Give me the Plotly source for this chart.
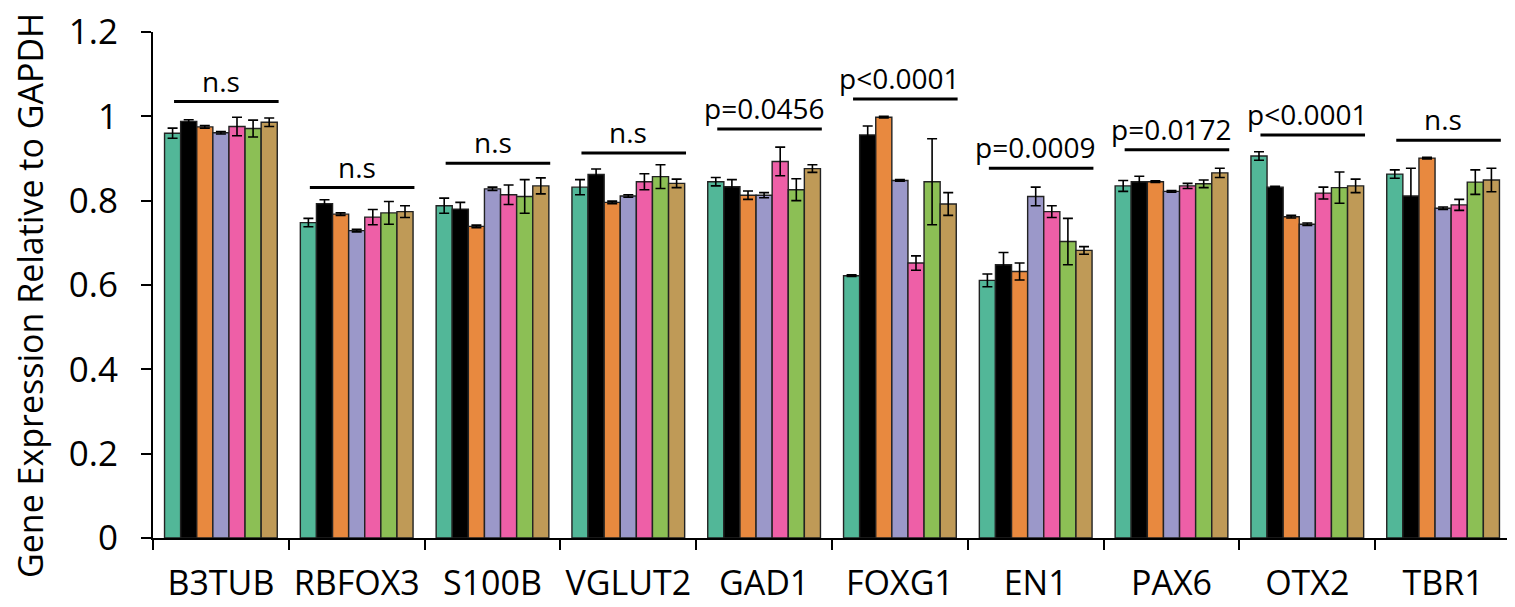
import plotly.graph_objects as go

genes = ["B3TUB", "RBFOX3", "S100B", "VGLUT2", "GAD1", "FOXG1", "EN1", "PAX6", "OTX2", "TBR1"]

series_names = ["Group 1", "Group 2", "Group 3", "Group 4", "Group 5", "Group 6", "Group 7"]
series_colors = ["#52B798", "#000000", "#E8893F", "#9B98C9", "#EE5FA7", "#8CBF55", "#BF9A57"]

g1 = [0.960, 0.748, 0.788, 0.832, 0.845, 0.622, 0.611, 0.835, 0.906, 0.863]
g2 = [0.988, 0.793, 0.780, 0.862, 0.833, 0.956, 0.648, 0.845, 0.832, 0.811]
g3 = [0.975, 0.768, 0.739, 0.796, 0.813, 0.998, 0.632, 0.845, 0.762, 0.901]
g4 = [0.961, 0.729, 0.828, 0.811, 0.813, 0.848, 0.810, 0.822, 0.744, 0.782]
g5 = [0.976, 0.761, 0.814, 0.845, 0.893, 0.652, 0.774, 0.835, 0.818, 0.790]
g6 = [0.971, 0.771, 0.810, 0.857, 0.826, 0.845, 0.703, 0.840, 0.831, 0.844]
g7 = [0.986, 0.774, 0.835, 0.841, 0.876, 0.792, 0.682, 0.866, 0.835, 0.849]

e1 = [0.012, 0.010, 0.018, 0.018, 0.010, 0.002, 0.015, 0.013, 0.010, 0.010]
e2 = [0.004, 0.009, 0.016, 0.013, 0.017, 0.021, 0.029, 0.013, 0.002, 0.066]
e3 = [0.003, 0.003, 0.003, 0.003, 0.010, 0.002, 0.020, 0.002, 0.003, 0.002]
e4 = [0.003, 0.003, 0.004, 0.003, 0.006, 0.002, 0.022, 0.002, 0.003, 0.003]
e5 = [0.022, 0.018, 0.023, 0.019, 0.034, 0.017, 0.014, 0.006, 0.014, 0.013]
e6 = [0.020, 0.027, 0.040, 0.028, 0.026, 0.102, 0.055, 0.009, 0.037, 0.029]
e7 = [0.010, 0.014, 0.019, 0.010, 0.009, 0.027, 0.009, 0.011, 0.016, 0.028]

sig_labels = ["n.s", "n.s", "n.s", "n.s", "p=0.0456", "p<0.0001", "p=0.0009", "p=0.0172", "p<0.0001", "n.s"]
sig_heights = [1.035, 0.831, 0.889, 0.913, 0.970, 1.041, 0.877, 0.921, 0.956, 0.943]

y_title = "Gene Expression Relative to GAPDH"

values = [g1, g2, g3, g4, g5, g6, g7]
errors = [e1, e2, e3, e4, e5, e6, e7]

FONT = "'Open Sans', Lato, sans-serif"

fig = go.Figure()
for name, color, vals, errs in zip(series_names, series_colors, values, errors):
    fig.add_trace(go.Bar(
        x=genes, y=vals, name=name,
        marker=dict(color=color, line=dict(color="#222222", width=1.4)),
        error_y=dict(type="data", array=errs, visible=True, color="#000000",
                     thickness=1.6, width=5),
        showlegend=False,
    ))

shapes = []
annotations = []
for i, (lab, h) in enumerate(zip(sig_labels, sig_heights)):
    shapes.append(dict(type="line", xref="x", yref="y",
                       x0=i - 0.345, x1=i + 0.425, y0=h, y1=h,
                       line=dict(color="#000000", width=3)))
    annotations.append(dict(x=i, y=h, xref="x", yref="y", text=lab,
                            showarrow=False, yanchor="bottom", yshift=0,
                            font=dict(family=FONT, size=28, color="#000000")))

annotations.append(dict(x=0, y=0.5, xref="paper", yref="paper", text=y_title,
                        showarrow=False, textangle=-90, xanchor="center",
                        yanchor="middle", xshift=-123, yshift=-11,
                        font=dict(family=FONT, size=34, color="#000000")))

fig.update_layout(
    width=1507, height=599,
    margin=dict(l=145, r=4, t=24, b=69, autoexpand=False),
    paper_bgcolor="white", plot_bgcolor="white",
    barmode="group", bargap=0.17, bargroupgap=0,
    font=dict(family=FONT, color="#000000"),
    shapes=shapes, annotations=annotations,
)
fig.update_xaxes(
    showline=True, linecolor="#000000", linewidth=2,
    ticks="outside", ticklen=10, tickwidth=2, tickcolor="#000000",
    tickson="boundaries", showgrid=False, zeroline=False,
    tickfont=dict(family=FONT, size=34, color="#000000"),
    tickangle=0, ticklabeloverflow="allow",
    ticklabelstandoff=14, automargin=False,
)
fig.update_yaxes(
    range=[0, 1.2], tickvals=[0, 0.2, 0.4, 0.6, 0.8, 1.0, 1.2],
    ticktext=["0", "0.2", "0.4", "0.6", "0.8", "1", "1.2"],
    showline=True, linecolor="#000000", linewidth=2,
    ticks="outside", ticklen=10, tickwidth=2, tickcolor="#000000",
    showgrid=False, zeroline=False,
    tickfont=dict(family=FONT, size=35, color="#000000"),
    ticklabeloverflow="allow",
    ticklabelstandoff=16, automargin=False,
)

fig.write_html("out.html")
